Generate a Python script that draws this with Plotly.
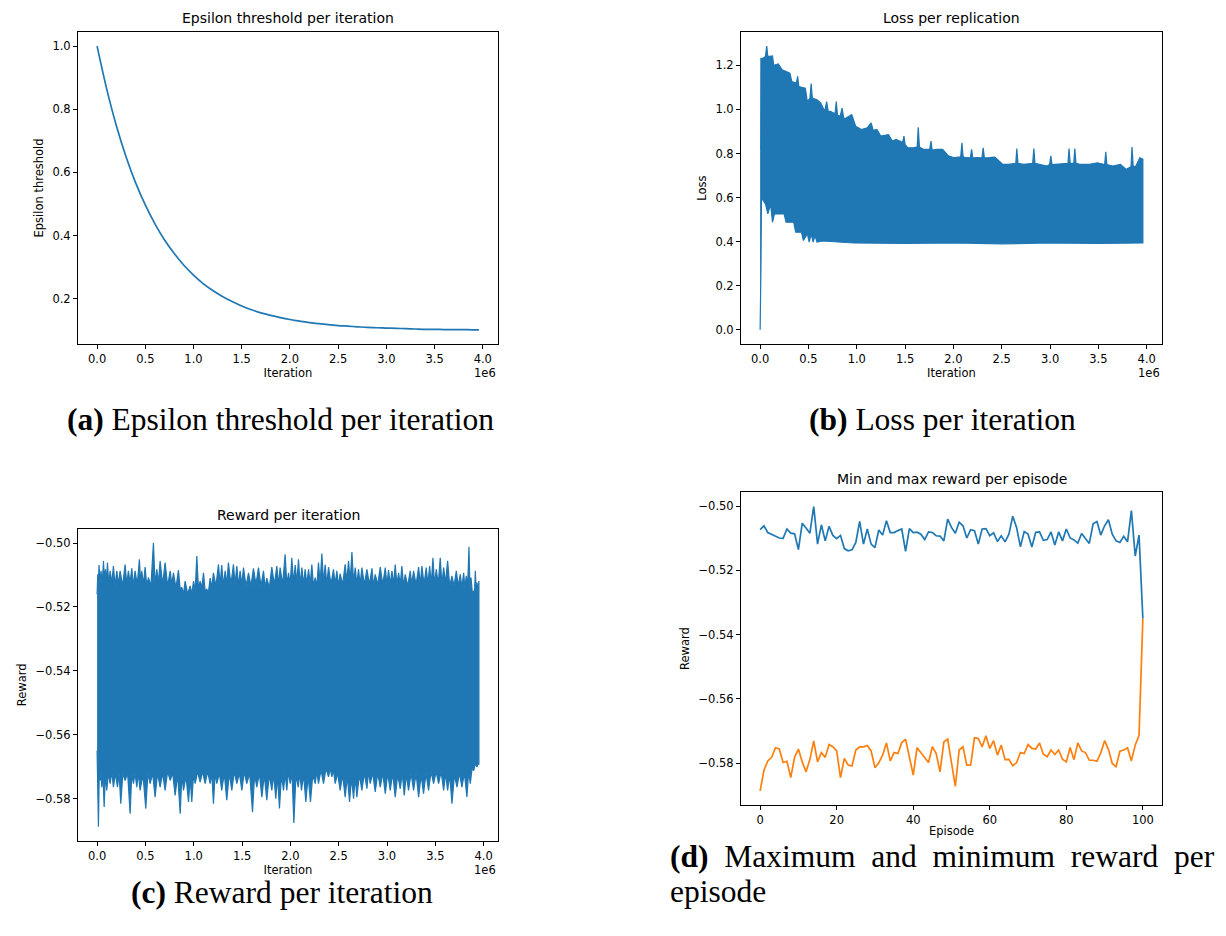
import plotly.graph_objects as go

W, H = 1226, 936
BLUE = "#1f77b4"
ORANGE = "#ff7f0e"

# ---------------- (a) Epsilon threshold per iteration ----------------
EPS_ITER_M = [round(0.1 * i, 1) for i in range(40)] + [3.96]
EPS_VALUE = [1.000, 0.864, 0.748, 0.650, 0.567, 0.497, 0.437, 0.386, 0.343, 0.306,
             0.275, 0.248, 0.226, 0.207, 0.191, 0.177, 0.165, 0.155, 0.147, 0.140,
             0.134, 0.129, 0.124, 0.121, 0.118, 0.115, 0.113, 0.111, 0.109, 0.108,
             0.107, 0.106, 0.105, 0.104, 0.103, 0.103, 0.102, 0.102, 0.102, 0.1015,
             0.1014]

# ---------------- (b) Loss per iteration (upper / lower envelope) ----------------
LOSS_UP_ITER_M = [0.000, 0.006, 0.008, 0.030, 0.055, 0.068, 0.080, 0.108, 0.128, 0.140,
                  0.188, 0.228, 0.268, 0.308, 0.328, 0.375, 0.388, 0.400, 0.468, 0.488,
                  0.515, 0.528, 0.540, 0.588, 0.628, 0.668, 0.688, 0.705, 0.728, 0.775,
                  0.788, 0.800, 0.828, 0.848, 0.865, 0.888, 0.948, 0.988, 1.048, 1.108,
                  1.148, 1.170, 1.208, 1.248, 1.328, 1.368, 1.408, 1.475, 1.488, 1.500,
                  1.528, 1.588, 1.625, 1.636, 1.648, 1.688, 1.755, 1.768, 1.780, 1.828,
                  1.888, 1.948, 2.008, 2.075, 2.088, 2.100, 2.128, 2.175, 2.188, 2.200,
                  2.248, 2.295, 2.308, 2.320, 2.368, 2.428, 2.508, 2.568, 2.645, 2.656,
                  2.668, 2.728, 2.820, 2.832, 2.844, 2.888, 2.968, 2.995, 3.008, 3.020,
                  3.068, 3.185, 3.196, 3.208, 3.245, 3.256, 3.268, 3.308, 3.408, 3.488,
                  3.565, 3.576, 3.588, 3.648, 3.728, 3.788, 3.837, 3.848, 3.860, 3.888,
                  3.928, 3.960]
LOSS_UP = [0.826, 0.826, 1.232, 1.232, 1.240, 1.287, 1.240, 1.240, 1.243, 1.200,
           1.206, 1.180, 1.172, 1.164, 1.126, 1.120, 1.150, 1.104, 1.096, 1.036,
           1.050, 1.118, 1.051, 1.044, 1.029, 0.991, 1.036, 0.990, 0.991, 0.980,
           1.036, 0.975, 0.969, 1.006, 0.960, 0.961, 0.976, 0.924, 0.909, 0.916,
           0.939, 0.905, 0.909, 0.879, 0.886, 0.856, 0.864, 0.850, 0.879, 0.840,
           0.826, 0.826, 0.830, 0.919, 0.830, 0.819, 0.820, 0.856, 0.815, 0.819,
           0.819, 0.789, 0.781, 0.785, 0.849, 0.785, 0.781, 0.780, 0.819, 0.780,
           0.781, 0.780, 0.826, 0.780, 0.781, 0.784, 0.751, 0.751, 0.755, 0.822,
           0.755, 0.751, 0.755, 0.822, 0.755, 0.751, 0.743, 0.750, 0.789, 0.750,
           0.751, 0.755, 0.822, 0.755, 0.755, 0.822, 0.755, 0.751, 0.751, 0.758,
           0.750, 0.808, 0.750, 0.743, 0.751, 0.728, 0.740, 0.829, 0.740, 0.743,
           0.781, 0.774]
LOSS_LO_ITER_M = [0.000, 0.004, 0.008, 0.014, 0.056, 0.080, 0.108, 0.128, 0.148, 0.248,
                  0.268, 0.348, 0.368, 0.428, 0.448, 0.488, 0.508, 0.528, 0.548, 0.568,
                  0.588, 0.648, 0.968, 1.500, 2.000, 2.500, 3.000, 3.500, 3.960]
LOSS_LO = [0.000, 0.090, 0.270, 0.600, 0.570, 0.526, 0.570, 0.488, 0.526, 0.526,
           0.488, 0.488, 0.443, 0.443, 0.405, 0.436, 0.398, 0.436, 0.398, 0.428,
           0.398, 0.403, 0.394, 0.392, 0.394, 0.390, 0.394, 0.392, 0.394]

# ---------------- (c) Reward per iteration (upper / lower envelope: spikes and core edge) ----------------
RW_UP_ITER_M = [0.000, 0.007, 0.013, 0.020, 0.030, 0.041, 0.053, 0.066, 0.076, 0.086,
                0.096, 0.107, 0.121, 0.135, 0.152, 0.169, 0.186, 0.204, 0.221, 0.238,
                0.264, 0.290, 0.307, 0.324, 0.341, 0.359, 0.376, 0.393, 0.415, 0.438,
                0.450, 0.462, 0.480, 0.497, 0.514, 0.531, 0.557, 0.583, 0.600, 0.618,
                0.635, 0.652, 0.678, 0.704, 0.730, 0.756, 0.773, 0.790, 0.816, 0.842,
                0.860, 0.877, 0.894, 0.911, 0.937, 0.963, 0.980, 0.998, 1.015, 1.032,
                1.049, 1.066, 1.084, 1.101, 1.118, 1.135, 1.152, 1.170, 1.187, 1.204,
                1.230, 1.256, 1.273, 1.290, 1.307, 1.325, 1.342, 1.359, 1.385, 1.411,
                1.428, 1.446, 1.463, 1.480, 1.497, 1.515, 1.541, 1.567, 1.592, 1.618,
                1.644, 1.670, 1.696, 1.722, 1.739, 1.756, 1.782, 1.808, 1.834, 1.860,
                1.877, 1.894, 1.920, 1.946, 1.963, 1.981, 1.998, 2.015, 2.032, 2.050,
                2.067, 2.084, 2.101, 2.119, 2.136, 2.153, 2.170, 2.188, 2.205, 2.222,
                2.239, 2.257, 2.274, 2.291, 2.308, 2.326, 2.343, 2.360, 2.377, 2.395,
                2.420, 2.446, 2.463, 2.481, 2.498, 2.515, 2.541, 2.567, 2.584, 2.602,
                2.619, 2.637, 2.654, 2.671, 2.688, 2.705, 2.722, 2.740, 2.766, 2.792,
                2.818, 2.844, 2.861, 2.878, 2.904, 2.930, 2.956, 2.982, 2.999, 3.016,
                3.033, 3.051, 3.068, 3.085, 3.102, 3.120, 3.137, 3.154, 3.171, 3.189,
                3.214, 3.240, 3.257, 3.275, 3.301, 3.327, 3.344, 3.361, 3.383, 3.406,
                3.423, 3.441, 3.458, 3.475, 3.492, 3.510, 3.530, 3.551, 3.568, 3.586,
                3.606, 3.627, 3.649, 3.672, 3.694, 3.717, 3.737, 3.758, 3.775, 3.793,
                3.806, 3.820, 3.834, 3.848, 3.858, 3.869, 3.883, 3.897, 3.905, 3.914,
                3.922, 3.931, 3.941, 3.951]
RW_UP = [-0.5160, -0.5098, -0.5130, -0.5069, -0.5125, -0.5087, -0.5130, -0.5056, -0.5120, -0.5082,
         -0.5125, -0.5061, -0.5130, -0.5087, -0.5125, -0.5072, -0.5135, -0.5087, -0.5130, -0.5087,
         -0.5135, -0.5067, -0.5130, -0.5087, -0.5125, -0.5079, -0.5135, -0.5087, -0.5130, -0.5051,
         -0.5125, -0.5087, -0.5130, -0.5075, -0.5135, -0.5108, -0.5135, -0.4999, -0.5130, -0.5082,
         -0.5125, -0.5056, -0.5130, -0.5061, -0.5135, -0.5087, -0.5130, -0.5093, -0.5140, -0.5085,
         -0.5145, -0.5139, -0.5160, -0.5119, -0.5160, -0.5134, -0.5160, -0.5119, -0.5150, -0.5041,
         -0.5145, -0.5119, -0.5140, -0.5093, -0.5150, -0.5145, -0.5155, -0.5110, -0.5140, -0.5093,
         -0.5135, -0.5067, -0.5130, -0.5069, -0.5135, -0.5087, -0.5130, -0.5061, -0.5130, -0.5067,
         -0.5130, -0.5072, -0.5135, -0.5087, -0.5130, -0.5077, -0.5135, -0.5093, -0.5135, -0.5079,
         -0.5130, -0.5077, -0.5135, -0.5087, -0.5140, -0.5110, -0.5140, -0.5075, -0.5130, -0.5072,
         -0.5130, -0.5077, -0.5130, -0.5035, -0.5130, -0.5093, -0.5130, -0.5046, -0.5125, -0.5069,
         -0.5125, -0.5051, -0.5130, -0.5077, -0.5130, -0.5082, -0.5130, -0.5082, -0.5130, -0.5067,
         -0.5135, -0.5108, -0.5135, -0.5061, -0.5125, -0.5033, -0.5125, -0.5067, -0.5130, -0.5075,
         -0.5130, -0.5082, -0.5130, -0.5087, -0.5135, -0.5096, -0.5130, -0.5067, -0.5120, -0.5056,
         -0.5120, -0.5028, -0.5125, -0.5077, -0.5130, -0.5082, -0.5130, -0.5077, -0.5130, -0.5082,
         -0.5130, -0.5079, -0.5135, -0.5098, -0.5130, -0.5075, -0.5130, -0.5077, -0.5130, -0.5085,
         -0.5130, -0.5087, -0.5130, -0.5067, -0.5130, -0.5093, -0.5130, -0.5072, -0.5135, -0.5098,
         -0.5135, -0.5087, -0.5130, -0.5087, -0.5130, -0.5075, -0.5130, -0.5072, -0.5130, -0.5077,
         -0.5130, -0.5072, -0.5130, -0.5046, -0.5130, -0.5082, -0.5130, -0.5046, -0.5130, -0.5077,
         -0.5125, -0.5056, -0.5135, -0.5103, -0.5135, -0.5087, -0.5135, -0.5098, -0.5140, -0.5093,
         -0.5140, -0.5103, -0.5140, -0.5012, -0.5140, -0.5108, -0.5155, -0.5150, -0.5160, -0.5087,
         -0.5150, -0.5124, -0.5150, -0.5119]
RW_LO_ITER_M = [0.000, 0.007, 0.014, 0.022, 0.031, 0.040, 0.048, 0.060, 0.073, 0.086,
                0.100, 0.117, 0.135, 0.152, 0.169, 0.190, 0.211, 0.228, 0.245, 0.267,
                0.290, 0.316, 0.342, 0.359, 0.376, 0.393, 0.411, 0.428, 0.445, 0.475,
                0.504, 0.526, 0.549, 0.575, 0.600, 0.626, 0.652, 0.678, 0.704, 0.730,
                0.756, 0.782, 0.808, 0.834, 0.860, 0.877, 0.894, 0.920, 0.946, 0.963,
                0.980, 0.998, 1.015, 1.040, 1.066, 1.092, 1.118, 1.144, 1.170, 1.187,
                1.204, 1.222, 1.239, 1.265, 1.290, 1.316, 1.342, 1.368, 1.394, 1.420,
                1.446, 1.472, 1.498, 1.523, 1.549, 1.579, 1.608, 1.630, 1.653, 1.679,
                1.705, 1.730, 1.756, 1.782, 1.808, 1.828, 1.849, 1.868, 1.887, 1.908,
                1.929, 1.946, 1.963, 1.980, 1.998, 2.017, 2.036, 2.058, 2.081, 2.098,
                2.115, 2.137, 2.160, 2.184, 2.208, 2.232, 2.257, 2.274, 2.291, 2.317,
                2.343, 2.369, 2.395, 2.412, 2.429, 2.446, 2.464, 2.489, 2.515, 2.541,
                2.567, 2.590, 2.612, 2.633, 2.654, 2.671, 2.688, 2.714, 2.740, 2.766,
                2.792, 2.809, 2.826, 2.852, 2.878, 2.904, 2.930, 2.956, 2.982, 3.008,
                3.033, 3.059, 3.085, 3.111, 3.137, 3.158, 3.178, 3.200, 3.223, 3.249,
                3.275, 3.301, 3.327, 3.353, 3.378, 3.404, 3.430, 3.456, 3.482, 3.508,
                3.534, 3.560, 3.586, 3.606, 3.627, 3.649, 3.672, 3.698, 3.724, 3.750,
                3.775, 3.801, 3.827, 3.845, 3.862, 3.880, 3.897, 3.914, 3.931, 3.941,
                3.951]
RW_LO = [-0.5649, -0.5720, -0.5888, -0.5720, -0.5743, -0.5715, -0.5764, -0.5720, -0.5826, -0.5720,
         -0.5774, -0.5720, -0.5753, -0.5715, -0.5764, -0.5720, -0.5764, -0.5720, -0.5816, -0.5720,
         -0.5743, -0.5720, -0.5847, -0.5720, -0.5753, -0.5720, -0.5764, -0.5720, -0.5774, -0.5725,
         -0.5831, -0.5720, -0.5753, -0.5720, -0.5795, -0.5720, -0.5764, -0.5720, -0.5774, -0.5715,
         -0.5743, -0.5720, -0.5790, -0.5725, -0.5847, -0.5725, -0.5774, -0.5730, -0.5810, -0.5735,
         -0.5810, -0.5725, -0.5753, -0.5715, -0.5748, -0.5715, -0.5753, -0.5715, -0.5753, -0.5720,
         -0.5816, -0.5720, -0.5753, -0.5720, -0.5774, -0.5720, -0.5805, -0.5720, -0.5774, -0.5715,
         -0.5753, -0.5720, -0.5774, -0.5715, -0.5753, -0.5720, -0.5842, -0.5725, -0.5764, -0.5720,
         -0.5795, -0.5725, -0.5805, -0.5725, -0.5774, -0.5725, -0.5800, -0.5730, -0.5831, -0.5725,
         -0.5774, -0.5720, -0.5774, -0.5715, -0.5753, -0.5720, -0.5876, -0.5725, -0.5764, -0.5720,
         -0.5774, -0.5725, -0.5810, -0.5730, -0.5810, -0.5725, -0.5753, -0.5715, -0.5753, -0.5710,
         -0.5753, -0.5705, -0.5732, -0.5705, -0.5732, -0.5710, -0.5753, -0.5720, -0.5774, -0.5725,
         -0.5795, -0.5730, -0.5810, -0.5735, -0.5800, -0.5730, -0.5795, -0.5725, -0.5774, -0.5720,
         -0.5769, -0.5715, -0.5753, -0.5720, -0.5779, -0.5720, -0.5764, -0.5720, -0.5784, -0.5720,
         -0.5774, -0.5720, -0.5795, -0.5725, -0.5769, -0.5720, -0.5790, -0.5725, -0.5774, -0.5720,
         -0.5774, -0.5720, -0.5795, -0.5725, -0.5784, -0.5720, -0.5774, -0.5715, -0.5753, -0.5715,
         -0.5753, -0.5715, -0.5774, -0.5720, -0.5774, -0.5725, -0.5816, -0.5725, -0.5764, -0.5720,
         -0.5764, -0.5720, -0.5795, -0.5715, -0.5753, -0.5705, -0.5712, -0.5690, -0.5701, -0.5690,
         -0.5691]

# ---------------- (d) Min and max reward per episode ----------------
EPISODE = list(range(101))
MAX_REWARD = [-0.5073, -0.5061, -0.5082, -0.5087, -0.5092, -0.5099, -0.5100, -0.5071, -0.5084, -0.5086,
              -0.5135, -0.5053, -0.5068, -0.5084, -0.5001, -0.5118, -0.5058, -0.5108, -0.5063, -0.5091,
              -0.5101, -0.5091, -0.5132, -0.5139, -0.5136, -0.5113, -0.5047, -0.5118, -0.5071, -0.5118,
              -0.5129, -0.5074, -0.5090, -0.5045, -0.5082, -0.5082, -0.5076, -0.5071, -0.5141, -0.5070,
              -0.5082, -0.5081, -0.5087, -0.5104, -0.5080, -0.5082, -0.5092, -0.5093, -0.5108, -0.5040,
              -0.5066, -0.5084, -0.5050, -0.5061, -0.5099, -0.5073, -0.5076, -0.5118, -0.5071, -0.5070,
              -0.5092, -0.5083, -0.5110, -0.5092, -0.5111, -0.5087, -0.5031, -0.5066, -0.5126, -0.5079,
              -0.5087, -0.5127, -0.5081, -0.5080, -0.5106, -0.5104, -0.5080, -0.5121, -0.5080, -0.5108,
              -0.5071, -0.5099, -0.5105, -0.5115, -0.5085, -0.5099, -0.5116, -0.5055, -0.5048, -0.5090,
              -0.5061, -0.5042, -0.5087, -0.5108, -0.5113, -0.5094, -0.5111, -0.5014, -0.5155, -0.5090,
              -0.5350]
MIN_REWARD = [-0.5886, -0.5822, -0.5793, -0.5782, -0.5752, -0.5756, -0.5798, -0.5794, -0.5845, -0.5782,
              -0.5756, -0.5796, -0.5827, -0.5788, -0.5731, -0.5796, -0.5767, -0.5782, -0.5742, -0.5749,
              -0.5762, -0.5845, -0.5785, -0.5806, -0.5809, -0.5759, -0.5749, -0.5749, -0.5745, -0.5762,
              -0.5814, -0.5799, -0.5775, -0.5737, -0.5793, -0.5767, -0.5770, -0.5736, -0.5725, -0.5780,
              -0.5837, -0.5752, -0.5767, -0.5780, -0.5798, -0.5749, -0.5770, -0.5827, -0.5734, -0.5725,
              -0.5806, -0.5872, -0.5759, -0.5749, -0.5806, -0.5806, -0.5721, -0.5723, -0.5749, -0.5715,
              -0.5754, -0.5730, -0.5775, -0.5744, -0.5789, -0.5788, -0.5808, -0.5799, -0.5767, -0.5770,
              -0.5742, -0.5754, -0.5756, -0.5737, -0.5772, -0.5780, -0.5759, -0.5773, -0.5759, -0.5788,
              -0.5796, -0.5751, -0.5789, -0.5737, -0.5762, -0.5767, -0.5791, -0.5791, -0.5794, -0.5768,
              -0.5730, -0.5757, -0.5801, -0.5811, -0.5763, -0.5759, -0.5752, -0.5793, -0.5744, -0.5713,
              -0.5350]

# ---------------- ticks and texts ----------------
ITER_TICKS_M = [0.0, 0.5, 1.0, 1.5, 2.0, 2.5, 3.0, 3.5, 4.0]
ITER_TICK_LABELS = ["0.0", "0.5", "1.0", "1.5", "2.0", "2.5", "3.0", "3.5", "4.0"]
EPS_TICKS = [0.2, 0.4, 0.6, 0.8, 1.0]
LOSS_TICKS = [0.0, 0.2, 0.4, 0.6, 0.8, 1.0, 1.2]
REWARD_TICKS = [-0.58, -0.56, -0.54, -0.52, -0.50]
EPISODE_TICKS = [0, 20, 40, 60, 80, 100]

TITLES = ["Epsilon threshold per iteration", "Loss per replication",
          "Reward per iteration", "Min and max reward per episode"]
CAPTIONS = [("(a)", "Epsilon threshold per iteration"),
            ("(b)", "Loss per iteration"),
            ("(c)", "Reward per iteration")]
CAPTION_D = ("(d)", ["Maximum", "and", "minimum", "reward", "per"], "episode")

M = 1e6
FONT = "DejaVu Sans"
SERIF = "Liberation Serif, Times New Roman, serif"
CAP_SIZE = 31.5


def pad(lo, hi, f=0.05):
    d = (hi - lo) * f
    return [lo - d, hi + d]


def px(x):
    return x / W


def py(y):
    return 1 - y / H


# axes boxes in pixels (left, right, top, bottom)
BOX = {
    "a": (78, 498, 32, 344),
    "b": (741, 1162, 32, 344),
    "c": (78, 498, 528.5, 841),
    "d": (741, 1162, 492.3, 805),
}

fig = go.Figure()

# (a)
fig.add_trace(go.Scatter(x=[v * M for v in EPS_ITER_M], y=EPS_VALUE, mode="lines",
                         line=dict(color=BLUE, width=1.7, shape="spline"),
                         xaxis="x", yaxis="y", showlegend=False))

# (b) dense loss band
bx = [v * M for v in LOSS_UP_ITER_M] + [v * M for v in LOSS_LO_ITER_M][::-1]
by = LOSS_UP + LOSS_LO[::-1]
fig.add_trace(go.Scatter(x=bx, y=by, mode="lines", fill="toself", fillcolor=BLUE,
                         line=dict(color=BLUE, width=1.2),
                         xaxis="x2", yaxis="y2", showlegend=False))

# (c) dense reward band
cx = [v * M for v in RW_UP_ITER_M] + [v * M for v in RW_LO_ITER_M][::-1]
cy = RW_UP + RW_LO[::-1]
fig.add_trace(go.Scatter(x=cx, y=cy, mode="lines", fill="toself", fillcolor=BLUE,
                         line=dict(color=BLUE, width=1.2),
                         xaxis="x3", yaxis="y3", showlegend=False))

# (d)
fig.add_trace(go.Scatter(x=EPISODE, y=MAX_REWARD, mode="lines",
                         line=dict(color=BLUE, width=1.7),
                         xaxis="x4", yaxis="y4", showlegend=False))
fig.add_trace(go.Scatter(x=EPISODE, y=MIN_REWARD, mode="lines",
                         line=dict(color=ORANGE, width=1.7),
                         xaxis="x4", yaxis="y4", showlegend=False))


def xaxis(box, rng, tickvals, ticktext, title, anchor):
    l, r, t, b = box
    return dict(domain=[px(l), px(r)], range=rng, anchor=anchor,
                tickvals=tickvals, ticktext=ticktext,
                showline=True, linecolor="black", linewidth=1, mirror=True,
                ticks="outside", ticklen=4, tickwidth=1, tickcolor="black",
                showgrid=False, zeroline=False, automargin=False,
                tickfont=dict(family=FONT, size=11.5, color="black"),
                title=dict(text=title, font=dict(family=FONT, size=11.5, color="black"), standoff=1))


def yaxis(box, rng, tickvals, fmt, title, anchor):
    l, r, t, b = box
    return dict(domain=[py(b), py(t)], range=rng, anchor=anchor,
                tickvals=tickvals, tickformat=fmt,
                showline=True, linecolor="black", linewidth=1, mirror=True,
                ticks="outside", ticklen=4, tickwidth=1, tickcolor="black",
                showgrid=False, zeroline=False, automargin=False,
                tickfont=dict(family=FONT, size=11.5, color="black"),
                title=dict(text=title, font=dict(family=FONT, size=11.5, color="black"), standoff=6))


iter_range = pad(0, max(EPS_ITER_M) * M)
iter_tickvals = [v * M for v in ITER_TICKS_M]

layout = dict(
    width=W, height=H, margin=dict(l=0, r=0, t=0, b=0),
    paper_bgcolor="white", plot_bgcolor="white", showlegend=False,
    xaxis=xaxis(BOX["a"], iter_range, iter_tickvals, ITER_TICK_LABELS, "Iteration", "y"),
    yaxis=yaxis(BOX["a"], pad(min(EPS_VALUE), max(EPS_VALUE)), EPS_TICKS, ".1f", "Epsilon threshold", "x"),
    xaxis2=xaxis(BOX["b"], pad(0, max(LOSS_UP_ITER_M) * M), iter_tickvals, ITER_TICK_LABELS, "Iteration", "y2"),
    yaxis2=yaxis(BOX["b"], pad(min(LOSS_LO), max(LOSS_UP)), LOSS_TICKS, ".1f", "Loss", "x2"),
    xaxis3=xaxis(BOX["c"], pad(0, max(RW_UP_ITER_M) * M), iter_tickvals, ITER_TICK_LABELS, "Iteration", "y3"),
    yaxis3=yaxis(BOX["c"], pad(min(RW_LO), max(RW_UP)), REWARD_TICKS, ".2f", "Reward", "x3"),
    xaxis4=xaxis(BOX["d"], pad(min(EPISODE), max(EPISODE)), EPISODE_TICKS, [str(v) for v in EPISODE_TICKS], "Episode", "y4"),
    yaxis4=yaxis(BOX["d"], pad(min(MIN_REWARD), max(MAX_REWARD)), REWARD_TICKS, ".2f", "Reward", "x4"),
)
fig.update_layout(**layout)

ann = []
# subplot titles
for key, title, ty in zip("abcd", TITLES, [18, 18, 515, 479.5]):
    l, r, t, b = BOX[key]
    ann.append(dict(text=title, x=px((l + r) / 2), y=py(ty), xref="paper", yref="paper",
                    xanchor="center", yanchor="middle", showarrow=False,
                    font=dict(family=FONT, size=14, color="black")))
# 1e6 offset labels
for key, oy in [("a", 373), ("b", 373), ("c", 870)]:
    l, r, t, b = BOX[key]
    ann.append(dict(text="1e6", x=px(r), y=py(oy), xref="paper", yref="paper",
                    xanchor="right", yanchor="middle", showarrow=False,
                    font=dict(family=FONT, size=11.5, color="black")))
# captions
for (lab, txt), (cx_, cy_) in zip(CAPTIONS, [(280, 420), (942.5, 420), (281.5, 892)]):
    ann.append(dict(text=f"<b>{lab}</b> {txt}", x=px(cx_), y=py(cy_), xref="paper", yref="paper",
                    xanchor="center", yanchor="middle", showarrow=False,
                    font=dict(family=SERIF, size=CAP_SIZE, color="black")))
# caption (d): justified first line (wider word spacing), then the wrapped last word
JUST = " \u00a0"
ann.append(dict(text=f"<b>{CAPTION_D[0]}</b>{JUST}" + JUST.join(CAPTION_D[1]), x=px(668), y=py(856),
                xref="paper", yref="paper", xanchor="left", yanchor="middle", showarrow=False,
                font=dict(family=SERIF, size=CAP_SIZE, color="black")))
ann.append(dict(text=CAPTION_D[2], x=px(668), y=py(891),
                xref="paper", yref="paper", xanchor="left", yanchor="middle", showarrow=False,
                font=dict(family=SERIF, size=CAP_SIZE, color="black")))
fig.update_layout(annotations=ann)

fig.write_html("out.html")
